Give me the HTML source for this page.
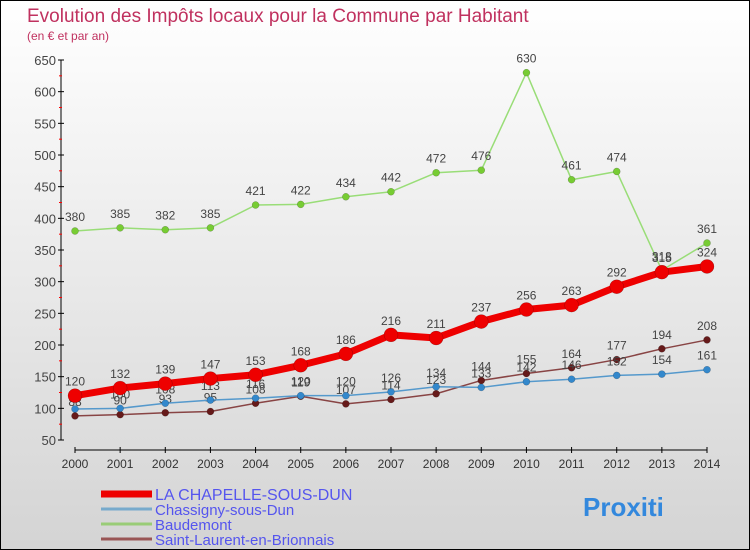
<!DOCTYPE html>
<html><head><meta charset="utf-8"><style>
body{margin:0}
#c{width:750px;height:550px;position:relative;box-sizing:border-box;border:1px solid #000;background:linear-gradient(#fff,#d4d4d4);font-family:"Liberation Sans",sans-serif;overflow:hidden}
</style></head><body>
<div id="c">
<svg id="s" width="748" height="548"></svg>
</div>
<script>
const years=[2000,2001,2002,2003,2004,2005,2006,2007,2008,2009,2010,2011,2012,2013,2014];
const chapelle=[120,132,139,147,153,168,186,216,211,237,256,263,292,315,324];
const chassigny=[99,100,108,113,116,120,120,126,134,133,142,146,152,154,161];
const baudemont=[380,385,382,385,421,422,434,442,472,476,630,461,474,318,361];
const stlaurent=[88,90,93,95,108,119,107,114,123,144,155,164,177,194,208];
const yTicks=[50,100,150,200,250,300,350,400,450,500,550,600,650];
const s=document.getElementById('s');const NS='http://www.w3.org/2000/svg';
function X(i){return 74+i*(632/14);}
function Y(v){return 439-(v-50)*(380/600);}
function el(t,a,txt){const e=document.createElementNS(NS,t);for(const k in a)e.setAttribute(k,a[k]);if(txt!==undefined)e.textContent=txt;s.appendChild(e);return e;}
let e;
e=el('text',{x:26,y:21,'font-size':19,fill:'#c0315f'},'Evolution des Impôts locaux pour la Commune par Habitant');

e=el('text',{x:26,y:39,'font-size':12,fill:'#c0315f'},'(en € et par an)');

e=el('line',{x1:60,y1:59,x2:60,y2:439,stroke:'#000'});

yTicks.forEach(v=>{el('line',{x1:57,x2:63,y1:Y(v),y2:Y(v),stroke:'#000'});
 e=el('text',{x:55,y:Y(v)+5,'font-size':13,fill:'#444','text-anchor':'end'},v);
 
 if(v<650)el('line',{x1:58,x2:61,y1:Y(v+25),y2:Y(v+25),stroke:'#f00'});});
e=el('line',{x1:74,y1:449,x2:706,y2:449,stroke:'#000'});

years.forEach((y,i)=>{el('line',{x1:X(i),x2:X(i),y1:446,y2:452,stroke:'#000'});
 e=el('text',{x:X(i),y:467,'font-size':12,fill:'#333','text-anchor':'middle'},y);
 });
function series(d,col,dot,w,r,name){
 e=el('polyline',{points:d.map((v,i)=>X(i)+','+Y(v)).join(' '),fill:'none',stroke:col,'stroke-width':w,'stroke-linejoin':'round'});
 
 d.forEach((v,i)=>{e=el('circle',{cx:X(i),cy:Y(v),r:r,fill:dot,stroke:'rgba(0,0,0,0.3)','stroke-width':0.5});
  
  e=el('text',{x:X(i),y:Y(v)-10,'font-size':12,fill:'#444','text-anchor':'middle'},v);
  });
}
series(baudemont,'#99dd77','#77cc33',1.5,3.5,'baudemont');
series(stlaurent,'#884444','#661a1a',1.5,3.5,'saint-laurent');
series(chassigny,'#5599cc','#3388cc',1.5,3.5,'chassigny');
series(chapelle,'#ee0000','#ee0000',7,7,'la-chapelle');
const leg=[['LA CHAPELLE-SOUS-DUN','#ee0000',7],['Chassigny-sous-Dun','#77aacc',3],['Baudemont','#99cc77',3],['Saint-Laurent-en-Brionnais','#995555',3]];
leg.forEach((l,i)=>{const y=493+i*15;
 e=el('line',{x1:100,x2:151,y1:y,y2:y,stroke:l[1],'stroke-width':l[2]});
 
 e=el('text',{x:154,y:y+6,'font-size':i==0?16:15,fill:'#5555ee'},l[0]);
 });
e=el('text',{x:582,y:515,'font-size':26,'font-weight':'bold',fill:'#3388dd'},'Proxiti');

</script>
</body></html>
